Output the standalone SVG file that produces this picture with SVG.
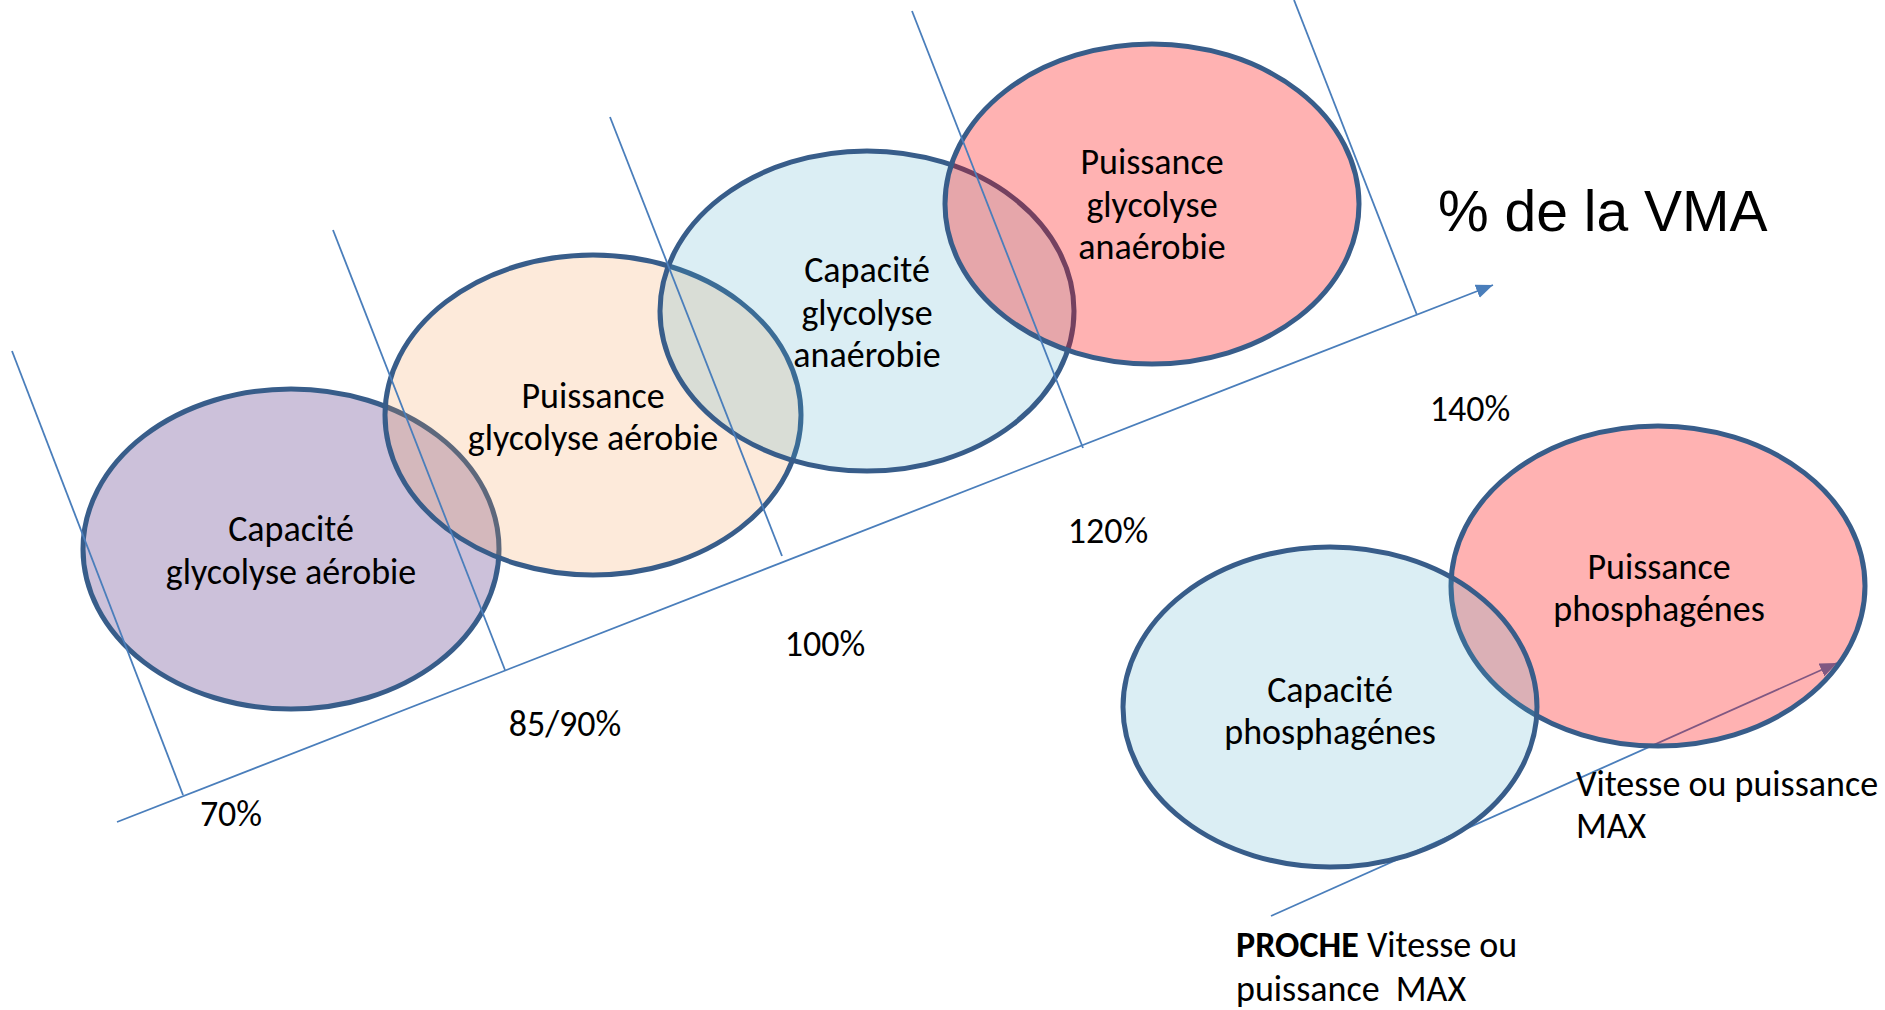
<svg xmlns="http://www.w3.org/2000/svg" width="1885" height="1010" viewBox="0 0 1885 1010">
<defs>
<style>
.ell{stroke:#385D8A;stroke-width:5}
.purple{fill:#8064A2;fill-opacity:0.4}
.peach{fill:#F79646;fill-opacity:0.2}
.blue{fill:#4BACC6;fill-opacity:0.2}
.red{fill:#FF0000;fill-opacity:0.3}
.ln{stroke:#4A7EBB;stroke-width:1.8;fill:none}
.lbl{font-family:Carlito,Lato,"Liberation Sans",sans-serif;font-size:36px;fill:#000}
.mid{text-anchor:middle}
.big{font-family:"Liberation Sans",Arial,sans-serif;font-size:57px;fill:#000}
</style>
<marker id="arr" markerUnits="userSpaceOnUse" markerWidth="20" markerHeight="16" refX="17" refY="7" orient="auto">
<path d="M0,0 L17,7 L0,14 Z" fill="#4A7EBB"/>
</marker>
</defs>
<rect width="1885" height="1010" fill="#fff"/>
<g id="connectors-back">
<line class="ln" x1="1271" y1="916" x2="1837" y2="663" marker-end="url(#arr)"/>
</g>
<g id="n1"><ellipse class="ell purple" cx="291" cy="549" rx="208" ry="160"/></g>
<g id="n2"><ellipse class="ell peach" cx="593" cy="415" rx="208" ry="160"/></g>
<g id="n3"><ellipse class="ell blue" cx="867" cy="311" rx="207" ry="160"/></g>
<g id="n4"><ellipse class="ell red" cx="1152" cy="204" rx="207" ry="160"/></g>
<g id="n6"><ellipse class="ell red" cx="1658" cy="586" rx="207" ry="160"/></g>
<g id="n5"><ellipse class="ell blue" cx="1330" cy="707" rx="207" ry="160"/></g>
<g id="connectors">
<line class="ln" x1="117" y1="822" x2="1493" y2="285" marker-end="url(#arr)"/>
<line class="ln" x1="12" y1="351" x2="183" y2="795"/>
<line class="ln" x1="333" y1="230" x2="505" y2="670"/>
<line class="ln" x1="610" y1="117" x2="782" y2="556"/>
<line class="ln" x1="912" y1="11" x2="1083" y2="448"/>
<line class="ln" x1="1294" y1="0" x2="1417" y2="315"/>
</g>
<g id="labels">
<text class="lbl mid" x="291" y="541">Capacité</text>
<text class="lbl mid" x="291" y="584">glycolyse aérobie</text>
<text class="lbl mid" x="593" y="408">Puissance</text>
<text class="lbl mid" x="593" y="450">glycolyse aérobie</text>
<text class="lbl mid" x="867" y="282">Capacité</text>
<text class="lbl mid" x="867" y="325">glycolyse</text>
<text class="lbl mid" x="867" y="367">anaérobie</text>
<text class="lbl mid" x="1152" y="174">Puissance</text>
<text class="lbl mid" x="1152" y="217">glycolyse</text>
<text class="lbl mid" x="1152" y="259">anaérobie</text>
<text class="lbl mid" x="1330" y="702">Capacité</text>
<text class="lbl mid" x="1330" y="744">phosphagénes</text>
<text class="lbl mid" x="1659" y="579">Puissance</text>
<text class="lbl mid" x="1659" y="621">phosphagénes</text>
<text class="big" x="1438" y="231">% de la VMA</text>
<text class="lbl mid" x="1470" y="421">140%</text>
<text class="lbl mid" x="1108" y="543">120%</text>
<text class="lbl mid" x="825" y="656">100%</text>
<text class="lbl mid" x="565" y="736">85/90%</text>
<text class="lbl mid" x="231" y="826">70%</text>
<text class="lbl" x="1576" y="796">Vitesse ou puissance</text>
<text class="lbl" x="1576" y="838">MAX</text>
<text class="lbl" x="1236" y="957"><tspan font-weight="bold">PROCHE</tspan> Vitesse ou</text>
<text class="lbl" x="1236" y="1001" xml:space="preserve">puissance  MAX</text>
</g>
</svg>
